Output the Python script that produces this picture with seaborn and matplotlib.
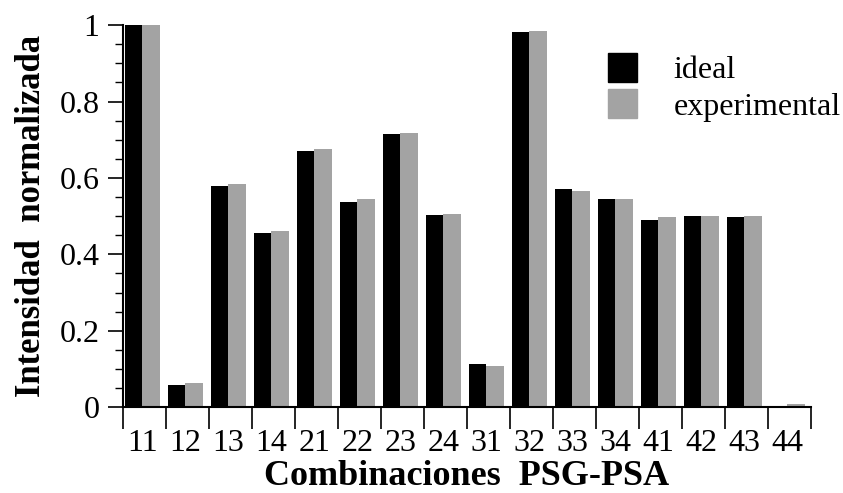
import matplotlib
matplotlib.use("Agg")
import matplotlib.pyplot as plt
import matplotlib.patches as mpatches
from matplotlib.ticker import MultipleLocator, FixedLocator
import numpy as np
import pandas as pd
import seaborn as sns

categories = ["11", "12", "13", "14", "21", "22", "23", "24",
              "31", "32", "33", "34", "41", "42", "43", "44"]
ideal = [1.0, 0.058, 0.578, 0.455, 0.671, 0.538, 0.714, 0.503,
         0.114, 0.983, 0.570, 0.544, 0.491, 0.501, 0.497, 0.001]
experimental = [1.0, 0.063, 0.584, 0.461, 0.675, 0.545, 0.717, 0.505,
                0.107, 0.985, 0.567, 0.544, 0.497, 0.501, 0.500, 0.009]

df = pd.DataFrame({
    "comb": categories * 2,
    "valor": ideal + experimental,
    "serie": ["ideal"] * len(categories) + ["experimental"] * len(categories),
})

sns.set_style("ticks", {"text.color": "black", "axes.labelcolor": "black",
                        "xtick.color": "black", "ytick.color": "black",
                        "axes.edgecolor": "black"})
plt.rcParams["font.family"] = ["Liberation Serif", "DejaVu Serif"]

fig = plt.figure(figsize=(8.43, 4.93), dpi=100)
ax = fig.add_axes([0.146, 0.174, 0.816, 0.775])

colores = {"ideal": "black", "experimental": "#a3a3a3"}
sns.barplot(data=df, x="comb", y="valor", hue="serie", palette=colores,
            width=0.82, saturation=1, legend=False, linewidth=0, ax=ax)

n = len(categories)
ax.set_xlim(-0.45, n - 0.45)
ax.set_ylim(0, 1)

# marcas en los limites de cada grupo, etiquetas centradas
ax.xaxis.set_major_locator(FixedLocator(np.arange(n + 1) - 0.45))
ax.xaxis.set_minor_locator(FixedLocator(np.arange(n)))
ax.set_xticklabels([""] * (n + 1))
ax.set_xticklabels(categories, minor=True)
ax.tick_params(axis="x", which="major", length=16, width=1.2, direction="out")
ax.tick_params(axis="x", which="minor", length=0, labelsize=23, pad=16)

ax.yaxis.set_major_locator(MultipleLocator(0.2))
ax.yaxis.set_minor_locator(MultipleLocator(0.05))
ax.set_yticks([0, 0.2, 0.4, 0.6, 0.8, 1.0])
ax.set_yticklabels(["0", "0.2", "0.4", "0.6", "0.8", "1"])
ax.tick_params(axis="y", which="major", length=11, width=1.2, labelsize=23, pad=6)
ax.tick_params(axis="y", which="minor", length=6, width=1.0)

for s in ["left", "bottom"]:
    ax.spines[s].set_linewidth(1.5)
sns.despine(ax=ax)

ax.set_xlabel("Combinaciones  PSG-PSA", fontsize=26, fontweight="bold", labelpad=1)
ax.set_ylabel("Intensidad  normalizada", fontsize=25, fontweight="bold", labelpad=8)

handles = [mpatches.Patch(color=colores[k], label=k) for k in ["ideal", "experimental"]]
ax.legend(handles=handles, loc="upper right", bbox_to_anchor=(1.062, 0.96),
          frameon=False, fontsize=23, handlelength=0.92, handleheight=1.0,
          handletextpad=1.15, labelspacing=0.12, borderaxespad=0)

fig.savefig("out.png", dpi=100)
